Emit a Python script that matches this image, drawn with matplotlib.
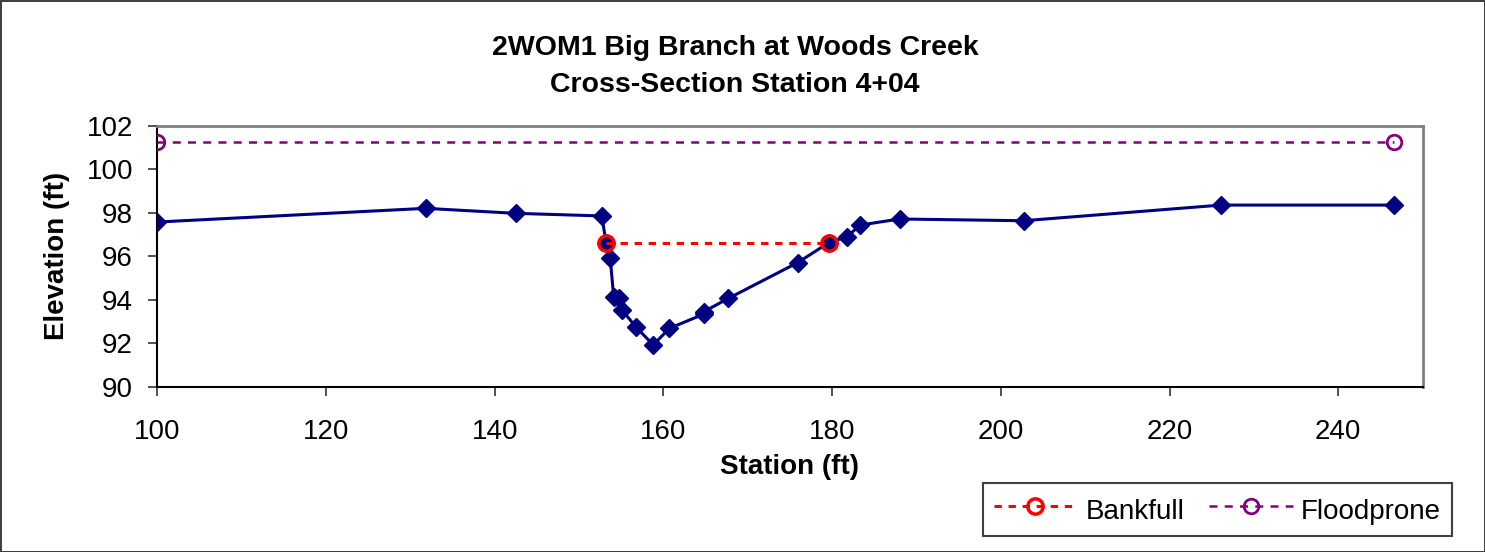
"""Cross-section profile plot: 2WOM1 Big Branch at Woods Creek, station 4+04."""

import matplotlib

matplotlib.use("Agg")

import matplotlib.pyplot as plt
from matplotlib.lines import Line2D

plt.rcParams["font.family"] = ["Liberation Sans", "DejaVu Sans"]

# Surveyed cross-section (station ft, elevation ft)
station = [100.0, 131.8, 142.5, 152.7, 153.2, 153.7, 154.1, 154.7, 155.1,
           156.7, 158.8, 160.7, 164.8, 164.8, 167.7, 175.9, 179.6, 181.8,
           183.3, 188.0, 202.7, 226.1, 246.6]
elevation = [97.57, 98.20, 97.97, 97.85, 96.62, 95.90, 94.14, 94.08, 93.53,
             92.76, 91.92, 92.68, 93.34, 93.45, 94.06, 95.70, 96.62, 96.90,
             97.43, 97.71, 97.63, 98.35, 98.35]

bankfull_x = [153.2, 179.6]
bankfull_y = [96.62, 96.62]

floodprone_x = [100.0, 246.6]
floodprone_y = [101.24, 101.24]

x_ticks = [100, 120, 140, 160, 180, 200, 220, 240]
y_ticks = [90, 92, 94, 96, 98, 100, 102]

FS = 20
NAVY = "#000080"
RED = "#ff0000"
PURPLE = "#800080"

# line styles shared by the plot and the legend
bank_style = dict(color=RED, linewidth=2.2, dashes=(2.4, 2.2), marker="o",
                  markersize=11, markerfacecolor="none", markeredgecolor=RED,
                  markeredgewidth=2.5)
flood_style = dict(color=PURPLE, linewidth=1.8, dashes=(3.2, 2.9), marker="o",
                   markersize=10.5, markerfacecolor="none",
                   markeredgecolor=PURPLE, markeredgewidth=2.0)

fig = plt.figure(figsize=(14.85, 5.52), dpi=100)
fig.patch.set_edgecolor("#404040")
fig.patch.set_linewidth(2)
ax = fig.add_axes([0.1059, 0.2995, 0.958 - 0.1059, 0.7723 - 0.2995])

ax.plot(station, elevation, color=NAVY, linewidth=2.2, marker="D",
        markersize=9.5, markerfacecolor=NAVY, markeredgecolor=NAVY, zorder=3)
ax.plot(bankfull_x, bankfull_y, zorder=4, **bank_style)
ax.plot(floodprone_x, floodprone_y, zorder=4, **flood_style)

ax.set_xlim(100, 250)
ax.set_ylim(90, 102)
ax.set_xticks(x_ticks)
ax.set_yticks(y_ticks)
ax.tick_params(axis="both", labelsize=FS, direction="out", length=6.5,
               width=1.2, color="#333333")
ax.tick_params(axis="x", pad=17)
ax.tick_params(axis="y", pad=11)

for side in ("top", "right"):
    ax.spines[side].set_color("#808080")
    ax.spines[side].set_linewidth(2)
for side in ("left", "bottom"):
    ax.spines[side].set_color("black")
    ax.spines[side].set_linewidth(1.5)

ax.set_xlabel("Station (ft)", fontsize=FS, fontweight="bold", labelpad=6)
ax.set_ylabel("Elevation (ft)", fontsize=FS, fontweight="bold", labelpad=12)

fig.text(0.495, 1 - 48 / 552, "2WOM1 Big Branch at Woods Creek",
         fontsize=20.5, fontweight="bold", ha="center", va="center")
fig.text(0.495, 1 - 85 / 552, "Cross-Section Station 4+04",
         fontsize=20.5, fontweight="bold", ha="center", va="center")

handles = [Line2D([], [], **bank_style), Line2D([], [], **flood_style)]
leg = fig.legend(handles, ["Bankfull", "Floodprone"], ncol=2, fontsize=FS,
                 loc="lower right", bbox_to_anchor=(1452 / 1485, 1 - 536 / 552),
                 bbox_transform=fig.transFigure, borderaxespad=0,
                 fancybox=False, framealpha=1, edgecolor="#404040",
                 handlelength=3.0, handleheight=1.35, handletextpad=0.3,
                 columnspacing=0.9, borderpad=0.4, numpoints=1)
leg.get_frame().set_linewidth(1.5)

fig.savefig("out.png", dpi=100)
